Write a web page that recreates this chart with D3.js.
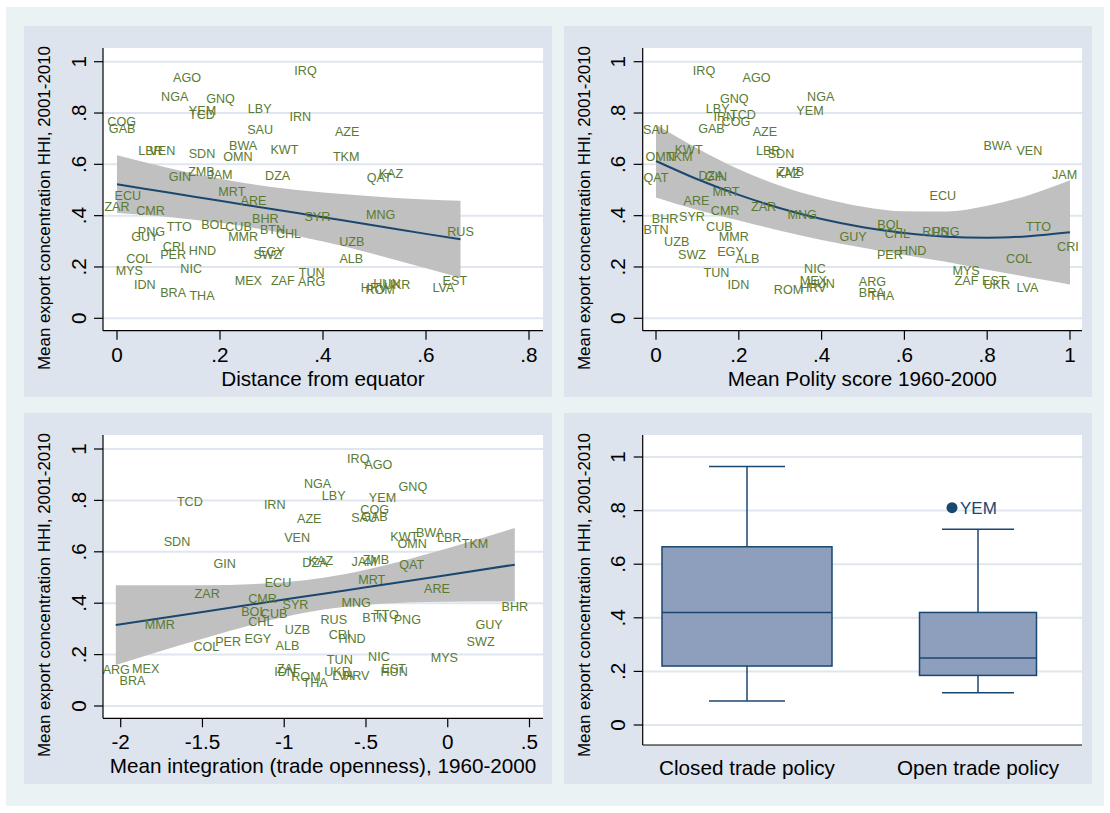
<!DOCTYPE html>
<html><head><meta charset="utf-8">
<script src="https://cdn.jsdelivr.net/npm/d3@7"></script>
<style>body{margin:0;background:#fff}svg{display:block;font-family:"Liberation Sans",Arial,sans-serif}</style>
</head><body><svg id="c" width="1110" height="813"></svg>
<script>
const countries = ["AGO","IRQ","NGA","GNQ","YEM","TCD","LBY","IRN","COG","GAB","SAU","LBR","VEN","BWA","KWT","SDN","OMN","GIN","ZMB","JAM","DZA","MRT","ECU","AZE","TKM","QAT","KAZ","ZAR","CMR","ARE","BHR","SYR","PNG","GUY","TTO","BOL","CUB","MMR","BTN","CHL","CRI","PER","HND","EGY","SWZ","COL","MYS","NIC","IDN","BRA","THA","MEX","ZAF","ARG","TUN","MNG","RUS","UZB","ALB","HRV","ROM","HUN","UKR","LVA","EST"];
const hhi = [.939,.965,.865,.855,.811,.794,.818,.786,.766,.739,.734,.655,.655,.674,.659,.641,.631,.554,.572,.561,.557,.493,.479,.729,.631,.550,.566,.437,.420,.459,.388,.397,.337,.319,.358,.366,.359,.319,.346,.330,.280,.250,.264,.261,.250,.232,.187,.193,.133,.100,.090,.146,.146,.144,.180,.404,.338,.299,.234,.119,.113,.136,.133,.119,.146];
const distance = [.136,.366,.112,.201,.166,.165,.277,.356,.009,.010,.278,.065,.088,.245,.325,.165,.235,.122,.164,.200,.312,.223,.021,.447,.445,.509,.532,.000,.065,.265,.288,.389,.067,.054,.121,.188,.236,.245,.302,.333,.110,.109,.166,.300,.292,.043,.024,.144,.054,.109,.165,.255,.322,.378,.378,.512,.667,.456,.455,.499,.511,.524,.544,.634,.656];
const polity = [.243,.116,.398,.189,.372,.210,.149,.165,.193,.134,.000,.271,.902,.825,.079,.302,.010,.145,.326,.987,.133,.169,.693,.263,.056,.000,.319,.260,.167,.098,.022,.087,.700,.476,.924,.565,.153,.188,.000,.583,.995,.565,.620,.180,.087,.877,.749,.384,.199,.521,.545,.380,.750,.523,.146,.353,.675,.050,.221,.380,.320,.399,.823,.897,.817];
const openness = [-.424,-.547,-.796,-.213,-.399,-1.577,-.697,-1.058,-.447,-.448,-.511,.009,-.921,-.108,-.266,-1.656,-.218,-1.364,-.439,-.511,-.812,-.465,-1.038,-.847,.167,-.220,-.776,-1.471,-1.133,-.066,.410,-.931,-.247,.253,-.376,-1.186,-1.062,-1.761,-.446,-1.143,-.662,-1.343,-.585,-1.161,.201,-1.476,-.021,-.421,-.995,-1.928,-.811,-1.847,-.972,-2.027,-.660,-.560,-.697,-.919,-.980,-.559,-.867,-.328,-.674,-.639,-.330];

// fitted lines with confidence bands
const fit1X = [0,.1,.2,.3,.4,.5,.6,.667];
const fit1Y = [.522,.490,.458,.426,.394,.362,.329,.308];
const fit1Lo = [.410,.395,.372,.340,.299,.250,.195,.158];
const fit1Hi = [.635,.586,.544,.512,.490,.475,.463,.458];
const fit2X = [0,.1,.2,.3,.4,.5,.6,.7,.8,.9,1];
const fit2Y = [.613,.542,.481,.429,.387,.355,.332,.318,.314,.320,.335];
const fit2Lo = [.471,.422,.381,.341,.305,.275,.247,.220,.189,.160,.132];
const fit2Hi = [.755,.662,.581,.517,.469,.435,.417,.416,.439,.480,.538];
const fit3X = [-2.03,-1.5,-1.0,-.75,-.5,0,.41];
const fit3Y = [.315,.366,.414,.438,.462,.510,.550];
const fit3Lo = [.160,.262,.346,.376,.394,.406,.407];
const fit3Hi = [.470,.470,.482,.500,.530,.614,.693];

// box plot summary
const boxCats = ["Closed trade policy","Open trade policy"];
const boxLow = [.09,.12];
const boxQ1 = [.22,.185];
const boxMed = [.42,.25];
const boxQ3 = [.665,.42];
const boxHigh = [.965,.73];
const outlierCat = ["Open trade policy"];
const outlierVal = [.811];
const outlierLab = ["YEM"];

const yTicks = [0,.2,.4,.6,.8,1];
const yTickLabels = ["0",".2",".4",".6",".8","1"];
const x1Ticks = [0,.2,.4,.6,.8], x1Labels = ["0",".2",".4",".6",".8"];
const x2Ticks = [0,.2,.4,.6,.8,1], x2Labels = ["0",".2",".4",".6",".8","1"];
const x3Ticks = [-2,-1.5,-1,-.5,0,.5], x3Labels = ["-2","-1.5","-1","-.5","0",".5"];
const yTitle = "Mean export concentration HHI, 2001-2010";

const svg = d3.select("#c");
const C = {outer:"#eaf2f3", panel:"#dde4ee", grid:"#dfe6ef", green:"#5a7a32", navy:"#1a476f", ci:"#c0c0c0", box:"#8e9fbd"};
svg.append("rect").attr("x",6).attr("y",7).attr("width",1098).attr("height",799).attr("fill",C.outer);
const panels = [[24,26],[564,26],[24,413],[564,413]];
panels.forEach(p=>svg.append("rect").attr("x",p[0]).attr("y",p[1]).attr("width",528).attr("height",371).attr("fill",C.panel));

function frame(o){
  const g = svg.append("g");
  g.append("rect").attr("x",o.l).attr("y",o.t).attr("width",o.r-o.l).attr("height",o.b-o.t).attr("fill","#fff");
  yTicks.forEach(v=>g.append("line").attr("x1",o.l).attr("x2",o.r).attr("y1",o.y(v)).attr("y2",o.y(v)).attr("stroke",C.grid).attr("stroke-width",2));
  return g;
}
function axes(g,o){
  g.append("line").attr("x1",o.l).attr("x2",o.l).attr("y1",o.t).attr("y2",o.b).attr("stroke","#000").attr("stroke-width",1.2);
  g.append("line").attr("x1",o.l).attr("x2",o.r).attr("y1",o.b).attr("y2",o.b).attr("stroke","#000").attr("stroke-width",1.2);
  yTicks.forEach((v,i)=>{
    g.append("line").attr("x1",o.l-9).attr("x2",o.l).attr("y1",o.y(v)).attr("y2",o.y(v)).attr("stroke","#000").attr("stroke-width",1.2);
    g.append("text").attr("transform",`translate(${o.l-17.5},${o.y(v)}) rotate(-90)`).attr("text-anchor","middle").attr("font-size",20.7).text(yTickLabels[i]);
  });
  g.append("text").attr("transform",`translate(${o.l-53},${o.ytc}) rotate(-90)`).attr("text-anchor","middle").attr("font-size",16.9).text(yTitle);
  if(o.x){
    o.xt.forEach((v,i)=>{
      g.append("line").attr("x1",o.x(v)).attr("x2",o.x(v)).attr("y1",o.b).attr("y2",o.b+9).attr("stroke","#000").attr("stroke-width",1.2);
      g.append("text").attr("x",o.x(v)).attr("y",o.b+31).attr("text-anchor","middle").attr("font-size",20.7).text(o.xl[i]);
    });
    g.append("text").attr("x",(o.l+o.r)/2).attr("y",o.b+55).attr("text-anchor","middle").attr("font-size",20.7).text(o.title);
  }
}
function scatterPanel(o, xs, fx, fy, flo, fhi){
  const g = frame(o);
  const area = d3.area().x((d,i)=>o.x(fx[i])).y0((d,i)=>o.y(flo[i])).y1((d,i)=>o.y(fhi[i])).curve(d3.curveMonotoneX);
  g.append("path").attr("d",area(fx)).attr("fill",C.ci);
  const line = d3.line().x((d,i)=>o.x(fx[i])).y((d,i)=>o.y(fy[i])).curve(d3.curveMonotoneX);
  g.append("path").attr("d",line(fx)).attr("fill","none").attr("stroke",C.navy).attr("stroke-width",2);
  countries.forEach((c,i)=>g.append("text").attr("x",o.x(xs[i])).attr("y",o.y(hhi[i])).attr("dy","0.36em").attr("text-anchor","middle").attr("font-size",12.6).attr("fill",C.green).text(c));
  axes(g,o);
}
const yTop = d3.scaleLinear().domain([0,1]).range([318.3,61.7]);
scatterPanel({l:103,r:543,t:48,b:330.7,y:yTop,ytc:208,x:d3.scaleLinear().domain([0,.8]).range([117,529]),xt:x1Ticks,xl:x1Labels,title:"Distance from equator"}, distance, fit1X, fit1Y, fit1Lo, fit1Hi);
scatterPanel({l:642.7,r:1082,t:48,b:330.7,y:yTop,ytc:208,x:d3.scaleLinear().domain([0,1]).range([656,1070]),xt:x2Ticks,xl:x2Labels,title:"Mean Polity score 1960-2000"}, polity, fit2X, fit2Y, fit2Lo, fit2Hi);
scatterPanel({l:103,r:543,t:435,b:718.3,y:d3.scaleLinear().domain([0,1]).range([706,449]),ytc:595,x:d3.scaleLinear().domain([-2,.5]).range([120.7,529.5]),xt:x3Ticks,xl:x3Labels,title:"Mean integration (trade openness), 1960-2000"}, openness, fit3X, fit3Y, fit3Lo, fit3Hi);

// box plot panel
(function(){
  const o = {l:642.7,r:1082,t:435,b:745,y:d3.scaleLinear().domain([0,1]).range([725,457]),ytc:595};
  const g = frame(o);
  const xb = d3.scalePoint().domain(boxCats).range([747,978]);
  const bw = {"Closed trade policy":170,"Open trade policy":117};
  const cap = {"Closed trade policy":38,"Open trade policy":36};
  boxCats.forEach((c,i)=>{
    const cx = xb(c), w = bw[c];
    g.append("line").attr("x1",cx).attr("x2",cx).attr("y1",o.y(boxQ3[i])).attr("y2",o.y(boxHigh[i])).attr("stroke",C.navy).attr("stroke-width",1.5);
    g.append("line").attr("x1",cx).attr("x2",cx).attr("y1",o.y(boxQ1[i])).attr("y2",o.y(boxLow[i])).attr("stroke",C.navy).attr("stroke-width",1.5);
    [boxHigh[i],boxLow[i]].forEach(v=>g.append("line").attr("x1",cx-cap[c]).attr("x2",cx+cap[c]).attr("y1",o.y(v)).attr("y2",o.y(v)).attr("stroke",C.navy).attr("stroke-width",1.5));
    g.append("rect").attr("x",cx-w/2).attr("width",w).attr("y",o.y(boxQ3[i])).attr("height",o.y(boxQ1[i])-o.y(boxQ3[i])).attr("fill",C.box).attr("stroke",C.navy).attr("stroke-width",1.5);
    g.append("line").attr("x1",cx-w/2).attr("x2",cx+w/2).attr("y1",o.y(boxMed[i])).attr("y2",o.y(boxMed[i])).attr("stroke",C.navy).attr("stroke-width",1.5);
    g.append("text").attr("x",cx).attr("y",o.b+30).attr("text-anchor","middle").attr("font-size",20.7).text(c);
  });
  outlierCat.forEach((c,i)=>{
    const cx = xb(c) - 26;
    g.append("circle").attr("cx",cx).attr("cy",o.y(outlierVal[i])).attr("r",5.5).attr("fill",C.navy);
    g.append("text").attr("x",cx+8).attr("y",o.y(outlierVal[i])).attr("dy","0.36em").attr("font-size",17).attr("fill",C.navy).text(outlierLab[i]);
  });
  axes(g,o);
})();
</script></body></html>
